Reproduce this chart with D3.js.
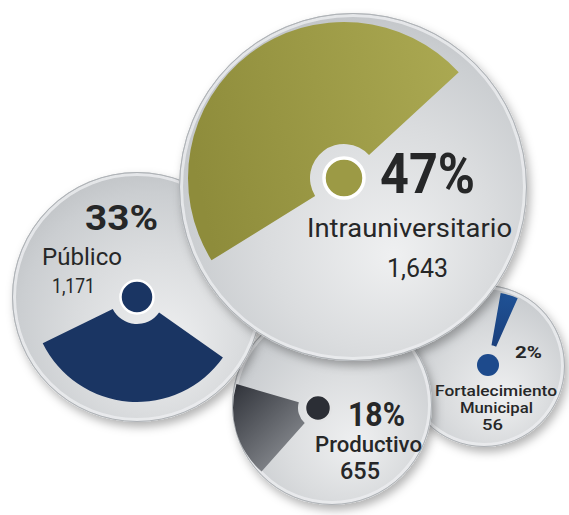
<!DOCTYPE html>
<html>
<head>
<meta charset="utf-8">
<script src="https://cdn.jsdelivr.net/npm/d3@7"></script>
<style>
  html, body { margin: 0; padding: 0; background: #ffffff; }
  svg { display: block; }
  text { font-family: Roboto, "DejaVu Sans", sans-serif; fill: #262728; }
</style>
</head>
<body>
<script>
// ---------------- data ----------------
const categories   = ["Intrauniversitario", "Público", "Productivo", "Fortalecimiento Municipal"];
const percentages  = [47, 33, 18, 2];
const counts       = [1643, 1171, 655, 56];
const countLabels  = ["1,643", "1,171", "655", "56"];

// ---------------- layout (not data) ----------------
const W = 569, H = 515;
const layout = [
  { // Intrauniversitario
    cx: 353, cy: 187, r: 174, hx: 344, hy: 178, inner: 34, outer: 156, mid: -37.25,
    dot: 20, dotStroke: "#ffffff", dotStrokeW: 3.5, fill: "url(#gOlive)", dotFill: "#9c9a45",
    pct: { x: 380, y: 193, w: 95, size: 56 },
    lines: [{ x: 307, y: 237, w: 205, size: 26, weight: 400 }],
    cnt: { x: 387, y: 277, w: 61, size: 26, weight: 400 }
  },
  { // Público
    cx: 137, cy: 297, r: 125, hx: 137, hy: 297, inner: 27, outer: 105, mid: 184.5,
    dot: 16.5, dotStroke: "#ffffff", dotStrokeW: 2.5, fill: "#1a3563", dotFill: "#1a3563",
    pct: { x: 85, y: 230, w: 73, size: 35 },
    lines: [{ x: 42, y: 265, w: 80, size: 24, weight: 400 }],
    cnt: { x: 52, y: 293, w: 43, size: 20, weight: 400 }
  },
  { // Productivo
    cx: 332, cy: 405, r: 100, hx: 318, hy: 408, inner: 20, outer: 85, mid: 254,
    dot: 13, dotStroke: "#e2e3e4", dotStrokeW: 2.5, fill: "url(#gProd)", dotFill: "#2b2e35",
    pct: { x: 348, y: 426, w: 57, size: 33 },
    lines: [{ x: 315, y: 452, w: 107, size: 22.5, weight: 500 }],
    cnt: { x: 340, y: 479, w: 40, size: 23, weight: 500 }
  },
  { // Fortalecimiento Municipal
    cx: 484, cy: 366, r: 81, hx: 488, hy: 365, inner: 20, outer: 73, mid: 17,
    dot: 11, dotStroke: "none", dotStrokeW: 0, fill: "url(#gBlue)", dotFill: "#1d4a8c",
    pct: { x: 515, y: 358, w: 27, size: 17 },
    lines: [{ x: 435, y: 396, w: 122, size: 15.5, weight: 500 },
            { x: 460, y: 413, w: 73, size: 15.5, weight: 500 }],
    cnt: { x: 482, y: 430, w: 21, size: 15.5, weight: 500 }
  }
];
const labelLines = [["Intrauniversitario"], ["Público"], ["Productivo"], ["Fortalecimiento", "Municipal"]];
const drawOrder = [3, 2, 1, 0];

// ---------------- scales ----------------
const angle = d3.scaleLinear().domain([0, 100]).range([0, 2 * Math.PI]);
const deg = d => d * Math.PI / 180;
const minSpan = deg(14);

const svg = d3.select("body").append("svg").attr("width", W).attr("height", H);
const defs = svg.append("defs");

// circle body gradient
const rg = defs.append("radialGradient").attr("id", "gDisc")
  .attr("cx", "55%").attr("cy", "60%").attr("r", "60%").attr("fx", "62%").attr("fy", "70%");
rg.append("stop").attr("offset", "0%").attr("stop-color", "#eff0f1");
rg.append("stop").attr("offset", "55%").attr("stop-color", "#dadcde");
rg.append("stop").attr("offset", "88%").attr("stop-color", "#cbced1");
rg.append("stop").attr("offset", "100%").attr("stop-color", "#c3c6c9");

const ol = defs.append("linearGradient").attr("id", "gOlive").attr("x1", "0%").attr("y1", "50%").attr("x2", "100%").attr("y2", "30%");
ol.append("stop").attr("offset", "0%").attr("stop-color", "#8e8c3b");
ol.append("stop").attr("offset", "100%").attr("stop-color", "#aaa851");

const pg = defs.append("linearGradient").attr("id", "gProd").attr("x1", "0%").attr("y1", "0%").attr("x2", "80%").attr("y2", "100%");
pg.append("stop").attr("offset", "0%").attr("stop-color", "#2f3239");
pg.append("stop").attr("offset", "100%").attr("stop-color", "#8f9297");

const bg = defs.append("linearGradient").attr("id", "gBlue").attr("x1", "0%").attr("y1", "0%").attr("x2", "0%").attr("y2", "100%");
bg.append("stop").attr("offset", "0%").attr("stop-color", "#1f5296");
bg.append("stop").attr("offset", "100%").attr("stop-color", "#1a3f7c");

const sh = defs.append("filter").attr("id", "shadow").attr("x", "-30%").attr("y", "-30%").attr("width", "160%").attr("height", "160%");
sh.append("feDropShadow").attr("dx", 3).attr("dy", 5).attr("stdDeviation", 5)
  .attr("flood-color", "#000").attr("flood-opacity", 0.3);

const arc = d3.arc();

drawOrder.forEach(i => {
  const L = layout[i];
  const g = svg.append("g").attr("class", "bubble");

  // disc
  g.append("circle").attr("cx", L.cx).attr("cy", L.cy).attr("r", L.r)
    .attr("fill", "url(#gDisc)").attr("filter", "url(#shadow)");
  // bevel rim
  g.append("circle").attr("cx", L.cx).attr("cy", L.cy).attr("r", L.r - 2.5)
    .attr("fill", "none").attr("stroke", "#eceef0").attr("stroke-width", 3).attr("opacity", 0.8);
  g.append("circle").attr("cx", L.cx).attr("cy", L.cy).attr("r", L.r - 0.5)
    .attr("fill", "none").attr("stroke", "#aeb2b6").attr("stroke-width", 1);

  // wedge
  const span = Math.max(angle(percentages[i]), minSpan);
  const m = deg(L.mid);
  g.append("path")
    .attr("transform", `translate(${L.hx},${L.hy})`)
    .attr("d", arc({ innerRadius: L.inner, outerRadius: L.outer, startAngle: m - span / 2, endAngle: m + span / 2 }))
    .attr("fill", L.fill);

  // hub dot
  g.append("circle").attr("cx", L.hx).attr("cy", L.hy).attr("r", L.dot)
    .attr("fill", L.dotFill).attr("stroke", L.dotStroke).attr("stroke-width", L.dotStrokeW);

  // texts
  g.append("text").attr("x", L.pct.x).attr("y", L.pct.y)
    .attr("font-size", L.pct.size).attr("font-weight", 700)
    .attr("textLength", L.pct.w).attr("lengthAdjust", "spacingAndGlyphs")
    .text(percentages[i] + "%");
  labelLines[i].forEach((t, k) => {
    const s = L.lines[k];
    g.append("text").attr("x", s.x).attr("y", s.y)
      .attr("font-size", s.size).attr("font-weight", s.weight)
      .attr("textLength", s.w).attr("lengthAdjust", "spacingAndGlyphs")
      .text(t);
  });
  g.append("text").attr("x", L.cnt.x).attr("y", L.cnt.y)
    .attr("font-size", L.cnt.size).attr("font-weight", L.cnt.weight)
    .attr("textLength", L.cnt.w).attr("lengthAdjust", "spacingAndGlyphs")
    .text(countLabels[i]);
});
</script>
</body>
</html>
